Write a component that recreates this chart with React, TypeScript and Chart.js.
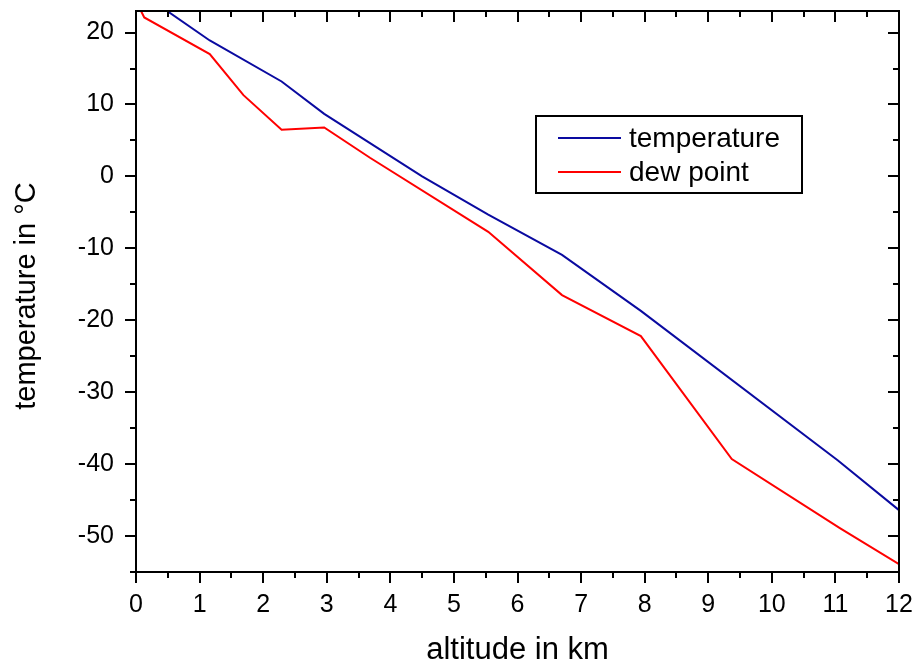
import React, { useEffect, useRef } from "react";
import { Chart, registerables } from "chart.js";

Chart.register(...registerables);

const tempAltitude = [0, 1.16, 2.29, 2.96, 4.5, 5.54, 6.7, 7.94, 11.04, 12];
const temperature = [26.0, 18.9, 13.2, 8.7, 0.0, -5.3, -10.9, -18.7, -39.5, -46.4];

const dewAltitude = [0, 0.13, 1.16, 1.69, 2.29, 2.96, 3.68, 5.54, 6.7, 7.94, 9.37, 11.07, 12];
const dewPoint = [24.4, 22.1, 17.0, 11.3, 6.5, 6.8, 2.6, -7.7, -16.5, -22.2, -39.3, -48.9, -53.9];

const xMajorTicks = [0, 1, 2, 3, 4, 5, 6, 7, 8, 9, 10, 11, 12];
const yMajorTicks = [-50, -40, -30, -20, -10, 0, 10, 20];

const seriesLabels = ["temperature", "dew point"];
const seriesColors = ["#0a0aa0", "#ff0000"];
const yTitle = "temperature in °C";
const xTitle = "altitude in km";

const FONT = "'Liberation Sans', Arial, sans-serif";

const framePlugin = {
  id: "frameTicks",
  afterDatasetsDraw(chart: any) {
    const { ctx, chartArea } = chart;
    const { left, right, top, bottom } = chartArea;
    const xs = chart.scales.x;
    const ys = chart.scales.y;
    ctx.save();
    ctx.strokeStyle = "#000";
    ctx.lineWidth = 2;
    ctx.strokeRect(left, top, right - left, bottom - top);
    const major = 11;
    const minor = 6;
    ctx.beginPath();
    for (let v = xs.min; v <= xs.max + 1e-9; v += 0.5) {
      const isMajor = Math.abs(v - Math.round(v)) < 1e-9;
      const px = Math.round(xs.getPixelForValue(v));
      const len = isMajor ? major : minor;
      ctx.moveTo(px, bottom);
      ctx.lineTo(px, bottom + len);
      ctx.moveTo(px, top);
      ctx.lineTo(px, top + len);
    }
    for (let v = -55; v <= 20 + 1e-9; v += 5) {
      const isMajor = Math.abs(v / 10 - Math.round(v / 10)) < 1e-9;
      const py = Math.round(ys.getPixelForValue(v));
      const len = isMajor ? major : minor;
      ctx.moveTo(left, py);
      ctx.lineTo(left - len, py);
      ctx.moveTo(right, py);
      ctx.lineTo(right - len, py);
    }
    ctx.stroke();

    // y axis title
    ctx.save();
    ctx.translate(27, 296);
    ctx.rotate(-Math.PI / 2);
    ctx.font = `29px ${FONT}`;
    ctx.fillStyle = "#000";
    ctx.textAlign = "center";
    ctx.textBaseline = "middle";
    ctx.fillText(yTitle, 0, 0);
    ctx.restore();

    // legend
    const bx = 536, by = 116, bw = 266, bh = 77;
    ctx.lineWidth = 2;
    ctx.strokeStyle = "#000";
    ctx.strokeRect(bx, by, bw, bh);
    ctx.font = `28px ${FONT}`;
    ctx.textBaseline = "middle";
    ctx.textAlign = "left";
    chart.data.datasets.forEach((ds: any, i: number) => {
      const ly = 138 + i * 34;
      ctx.strokeStyle = ds.borderColor;
      ctx.lineWidth = 2;
      ctx.beginPath();
      ctx.moveTo(558, ly);
      ctx.lineTo(621, ly);
      ctx.stroke();
      ctx.fillStyle = "#000";
      ctx.fillText(ds.label, 629, ly + 1);
    });
    ctx.restore();
  },
};

export default function App() {
  const ref = useRef<HTMLCanvasElement | null>(null);
  useEffect(() => {
    if (!ref.current) return;
    const chart = new Chart(ref.current, {
      type: "line",
      data: {
        datasets: [
          {
            label: seriesLabels[0],
            data: tempAltitude.map((x, i) => ({ x, y: temperature[i] })),
            borderColor: seriesColors[0],
            borderWidth: 2,
            pointRadius: 0,
            tension: 0,
            fill: false,
          },
          {
            label: seriesLabels[1],
            data: dewAltitude.map((x, i) => ({ x, y: dewPoint[i] })),
            borderColor: seriesColors[1],
            borderWidth: 2,
            pointRadius: 0,
            tension: 0,
            fill: false,
          },
        ],
      },
      options: {
        animation: false,
        responsive: false,
        maintainAspectRatio: false,
        layout: { padding: { top: 11, right: 18, left: 0, bottom: 0 } },
        plugins: { legend: { display: false }, tooltip: { enabled: false } },
        scales: {
          x: {
            type: "linear",
            min: 0,
            max: 12,
            afterBuildTicks: (s: any) => {
              s.ticks = xMajorTicks.map((v) => ({ value: v }));
            },
            afterFit: (s: any) => {
              s.height = 94;
              s.paddingLeft = 0;
              s.paddingRight = 0;
              s.paddingTop = 0;
              s.paddingBottom = 0;
            },
            grid: { display: false, drawTicks: false },
            border: { display: false },
            ticks: {
              color: "#000",
              padding: 18,
              maxRotation: 0,
              autoSkip: false,
              font: { family: FONT, size: 25 },
            },
            title: {
              display: true,
              text: xTitle,
              color: "#000",
              font: { family: FONT, size: 31, lineHeight: 1 },
              padding: { top: 0, bottom: 0 },
            },
          },
          y: {
            type: "linear",
            min: -55,
            max: 23,
            afterBuildTicks: (s: any) => {
              s.ticks = yMajorTicks.map((v) => ({ value: v }));
            },
            afterFit: (s: any) => {
              s.width = 136;
              s.paddingLeft = 0;
              s.paddingRight = 0;
              s.paddingTop = 0;
              s.paddingBottom = 0;
            },
            grid: { display: false, drawTicks: false },
            border: { display: false },
            ticks: {
              color: "#000",
              padding: 22,
              autoSkip: false,
              font: { family: FONT, size: 25 },
            },
            title: { display: false },
          },
        },
      },
      plugins: [framePlugin],
    });
    return () => chart.destroy();
  }, []);
  return (
    <div style={{ position: "fixed", left: 0, top: 0, width: 917, height: 666, background: "#fff" }}>
      <canvas ref={ref} width={917} height={666} style={{ width: 917, height: 666, display: "block" }} />
    </div>
  );
}
